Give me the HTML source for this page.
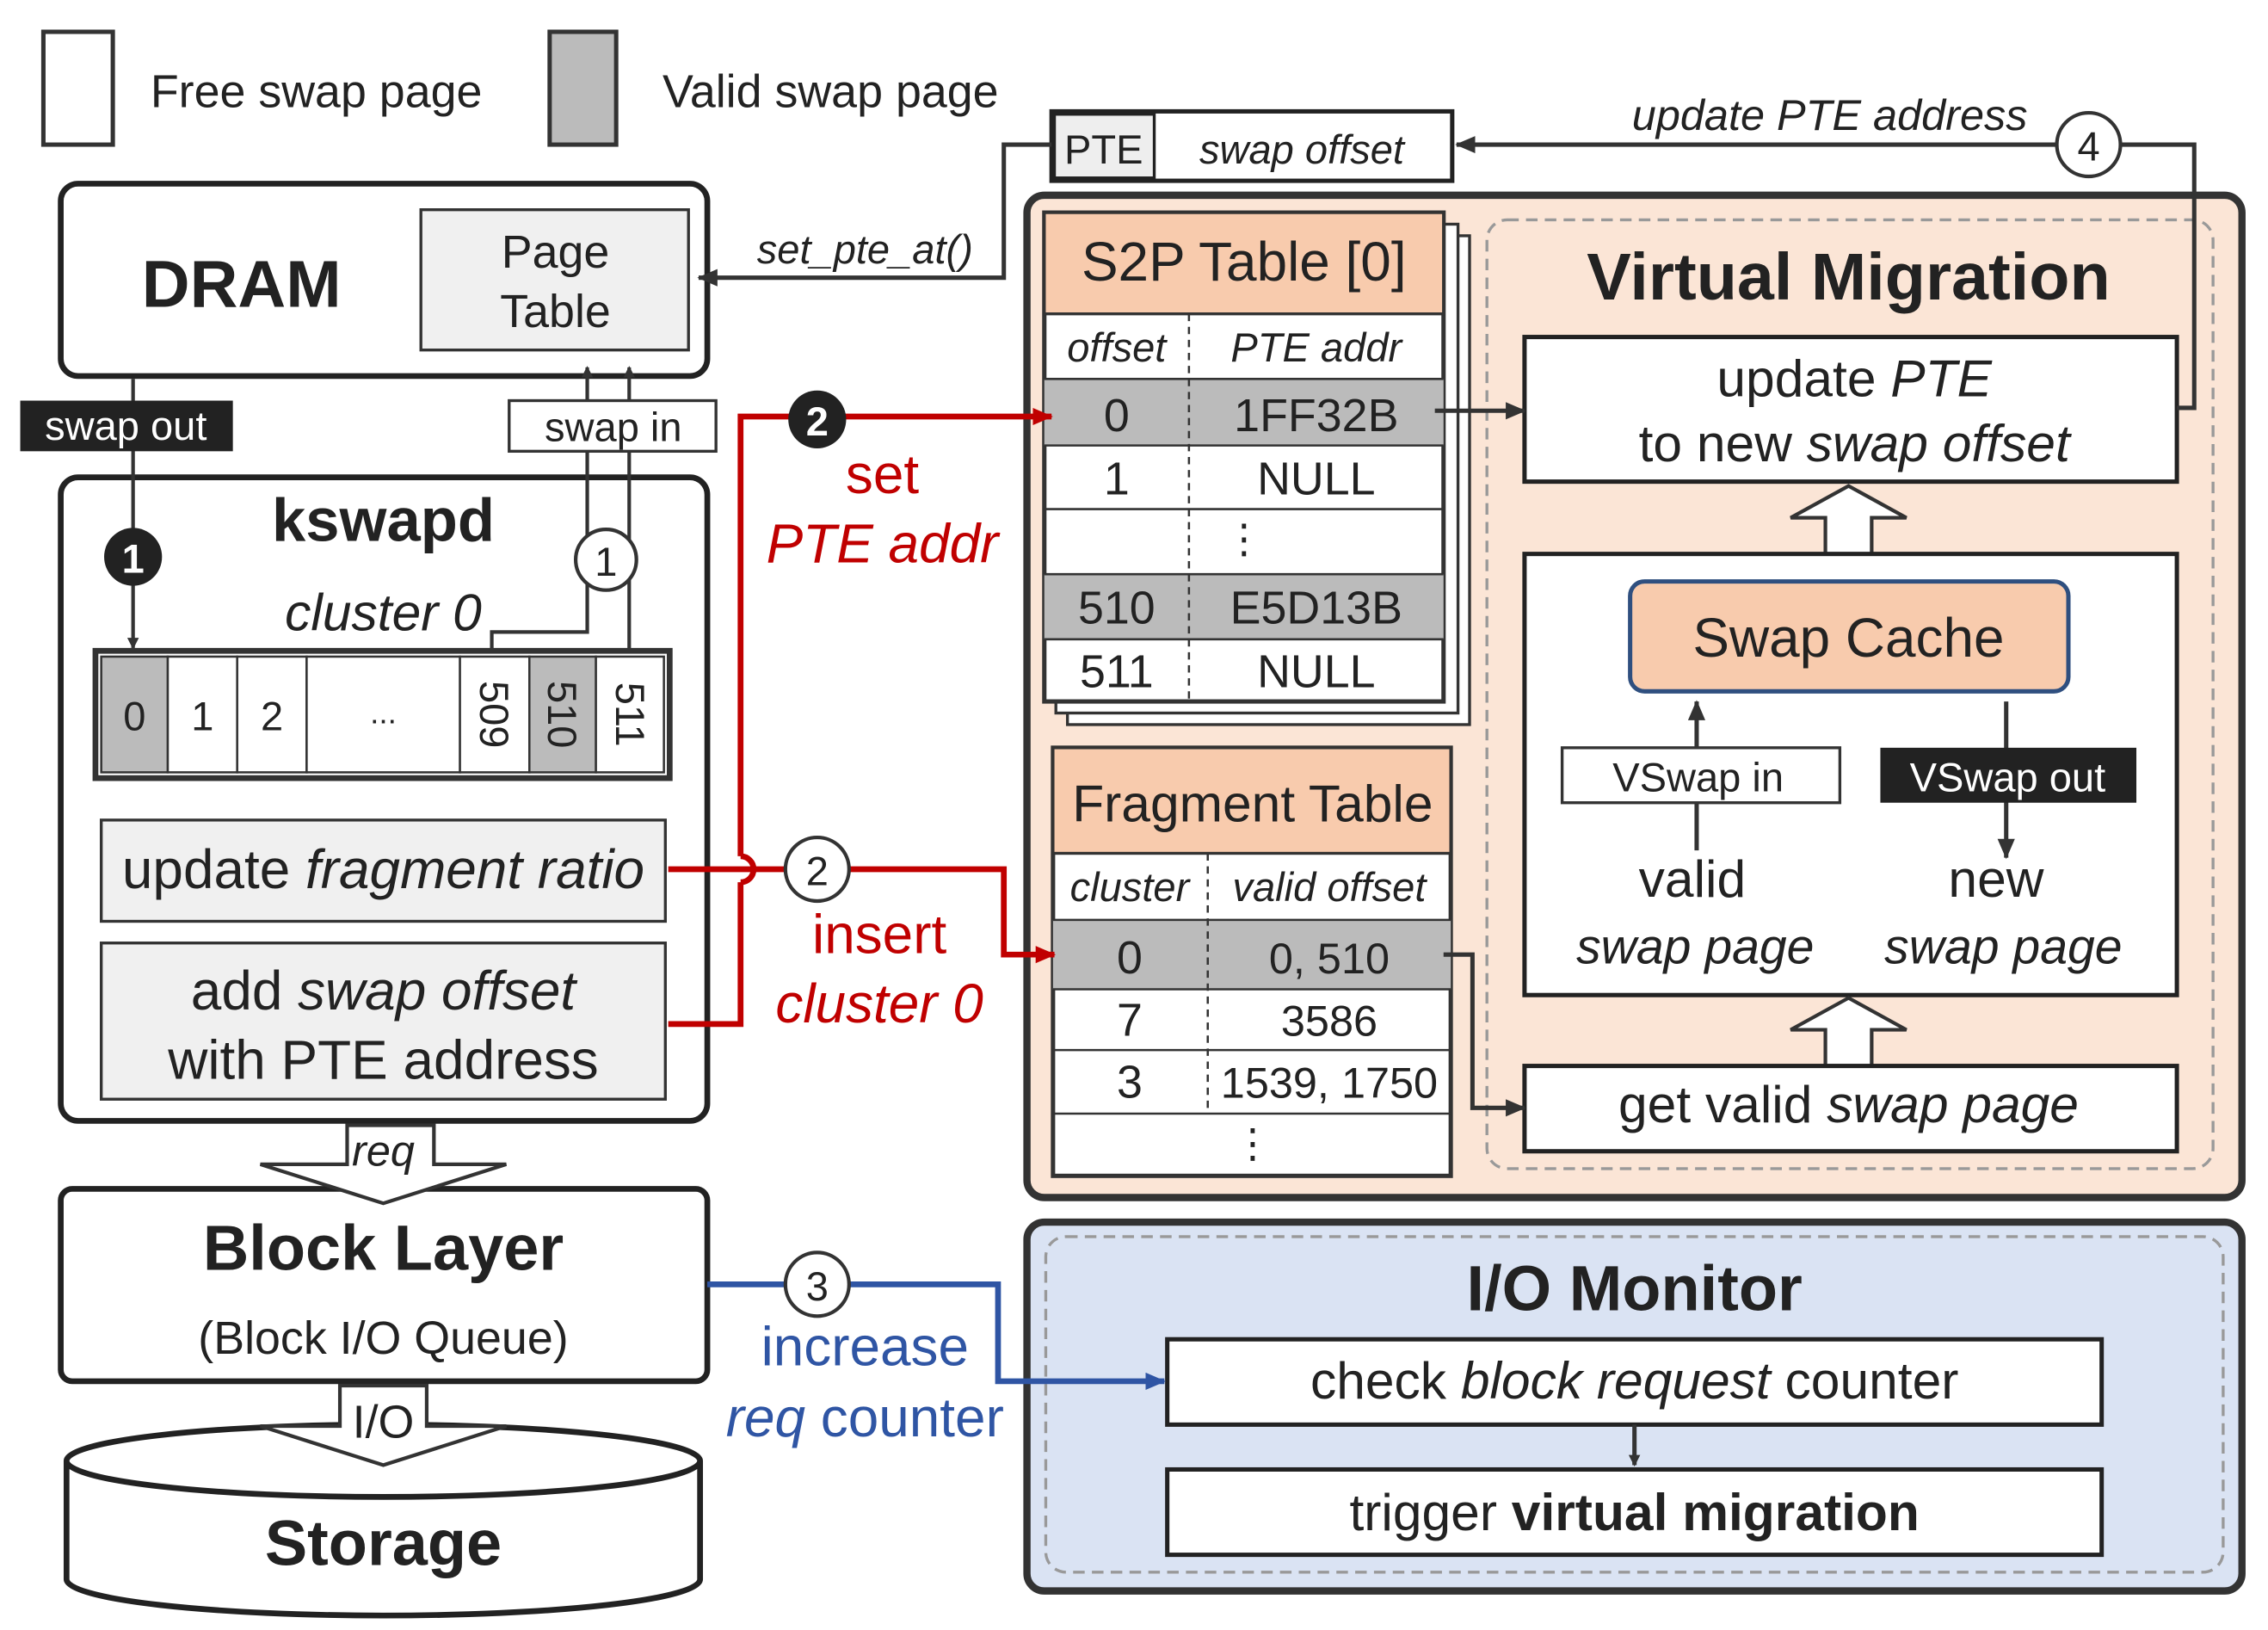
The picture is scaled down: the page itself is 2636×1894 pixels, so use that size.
<!DOCTYPE html>
<html><head><meta charset="utf-8"><style>html,body{margin:0;padding:0;background:#fff}svg{display:block}text{font-family:"Liberation Sans","DejaVu Sans",sans-serif;fill:#222}</style></head><body>
<svg width="2636" height="1894" viewBox="0 0 1568 1127" preserveAspectRatio="none" xmlns="http://www.w3.org/2000/svg">
<defs>
<marker id="ak" markerWidth="8" markerHeight="8" refX="7" refY="4" orient="auto" markerUnits="userSpaceOnUse"><path d="M0,0 L8,4 L0,8 z" fill="#333"/></marker>
<marker id="ar" markerWidth="14" markerHeight="12" refX="13" refY="6" orient="auto" markerUnits="userSpaceOnUse"><path d="M0,0 L14,6 L0,12 z" fill="#c00000"/></marker>
<marker id="ab" markerWidth="14" markerHeight="12" refX="13" refY="6" orient="auto" markerUnits="userSpaceOnUse"><path d="M0,0 L14,6 L0,12 z" fill="#2f55a4"/></marker>
<marker id="a2" markerWidth="14" markerHeight="12" refX="13" refY="6" orient="auto" markerUnits="userSpaceOnUse"><path d="M0,0 L14,6 L0,12 z" fill="#333"/></marker>
</defs>
<!-- legend -->
<rect x="30" y="22" width="48" height="78" fill="#fff" stroke="#333" stroke-width="3"/>
<text x="104" y="74" font-size="32">Free swap page</text>
<rect x="380" y="22" width="46" height="78" fill="#bbb" stroke="#333" stroke-width="3"/>
<text x="458" y="74" font-size="32">Valid swap page</text>

<!-- DRAM -->
<rect x="42" y="127" width="447" height="133" rx="12" fill="#fff" stroke="#222" stroke-width="4"/>
<text x="98" y="212" font-size="46" font-weight="bold">DRAM</text>
<rect x="291" y="145" width="185" height="97" fill="#f0f0f0" stroke="#333" stroke-width="2"/>
<text x="384" y="185" font-size="32" text-anchor="middle">Page</text>
<text x="384" y="226" font-size="32" text-anchor="middle">Table</text>

<!-- PTE -->
<rect x="727" y="77" width="277" height="48" fill="#fff" stroke="#222" stroke-width="3"/>
<rect x="729" y="79" width="69" height="44" fill="#eee" stroke="#222" stroke-width="2"/>
<text x="763" y="113" font-size="28" text-anchor="middle">PTE</text>
<text x="900" y="113" font-size="28" text-anchor="middle" font-style="italic">swap offset</text>
<text x="598" y="182" font-size="28" text-anchor="middle" font-style="italic">set_pte_at()</text>
<text x="1265" y="90" font-size="30" text-anchor="middle" font-style="italic">update PTE address</text>

<!-- kswapd -->
<rect x="42" y="330" width="447" height="445" rx="12" fill="#fff" stroke="#222" stroke-width="4"/>
<text x="265" y="374" font-size="42" font-weight="bold" text-anchor="middle">kswapd</text>
<text x="265" y="436" font-size="36" font-style="italic" text-anchor="middle">cluster 0</text>
<rect x="70" y="567" width="390" height="70" fill="#f0f0f0" stroke="#333" stroke-width="2"/>
<text x="265" y="614" font-size="38" text-anchor="middle">update <tspan font-style="italic">fragment ratio</tspan></text>
<rect x="70" y="652" width="390" height="108" fill="#f0f0f0" stroke="#333" stroke-width="2"/>
<text x="265" y="698" font-size="38" text-anchor="middle">add <tspan font-style="italic">swap offset</tspan></text>
<text x="265" y="746" font-size="38" text-anchor="middle">with PTE address</text>

<!-- Block layer -->
<rect x="42" y="822" width="447" height="133" rx="8" fill="#fff" stroke="#222" stroke-width="4"/>
<text x="265" y="878" font-size="44" font-weight="bold" text-anchor="middle">Block Layer</text>
<text x="265" y="936" font-size="32" text-anchor="middle">(Block I/O Queue)</text>
<polygon points="240,778 300,778 300,805 350,805 265,832 180,805 240,805" fill="#fff" stroke="#333" stroke-width="2.5"/>
<text x="265" y="806" font-size="30" text-anchor="middle" font-style="italic">req</text>
<!-- storage -->
<path d="M46,1010 L46,1092 A219,25 0 0 0 484,1092 L484,1010" fill="#fff" stroke="#222" stroke-width="4"/>
<ellipse cx="265" cy="1010" rx="219" ry="25" fill="#fff" stroke="#222" stroke-width="4"/>
<polygon points="235,958 295,958 295,986 350,986 265,1013 180,986 235,986" fill="#fff" stroke="#333" stroke-width="2.5"/>
<text x="265" y="994" font-size="32" text-anchor="middle">I/O</text>
<text x="265" y="1082" font-size="44" font-weight="bold" text-anchor="middle">Storage</text>

<!-- right big box -->
<rect x="710" y="135" width="840" height="693" rx="12" fill="#fbe5d6" stroke="#333" stroke-width="5"/>
<rect x="1028" y="152" width="502" height="656" rx="14" fill="none" stroke="#999" stroke-width="2" stroke-dasharray="8,5"/>
<!-- S2P -->
<rect x="738" y="163" width="278" height="338" fill="#fff" stroke="#333" stroke-width="2"/>
<rect x="730" y="155" width="278" height="338" fill="#fff" stroke="#333" stroke-width="2"/>
<rect x="722" y="147" width="276" height="338" fill="#fff" stroke="#333" stroke-width="3"/>
<rect x="722" y="147" width="276" height="70" fill="#f8cbad" stroke="#333" stroke-width="2"/>
<text x="860" y="194" font-size="38" text-anchor="middle">S2P Table [0]</text>
<rect x="722" y="262" width="276" height="46" fill="#bbb"/>
<rect x="722" y="397" width="276" height="45" fill="#bbb"/>
<g stroke="#333" stroke-width="1.5"><line x1="722" y1="262" x2="998" y2="262"/><line x1="722" y1="308" x2="998" y2="308"/><line x1="722" y1="352" x2="998" y2="352"/><line x1="722" y1="397" x2="998" y2="397"/><line x1="722" y1="442" x2="998" y2="442"/></g>
<line x1="822" y1="217" x2="822" y2="485" stroke="#333" stroke-width="1.5" stroke-dasharray="5,4"/>
<text x="772" y="250" font-size="28" text-anchor="middle" font-style="italic">offset</text>
<text x="910" y="250" font-size="28" text-anchor="middle" font-style="italic">PTE addr</text>
<text x="772" y="298" font-size="32" text-anchor="middle">0</text><text x="910" y="298" font-size="32" text-anchor="middle">1FF32B</text>
<text x="772" y="342" font-size="32" text-anchor="middle">1</text><text x="910" y="342" font-size="32" text-anchor="middle">NULL</text>
<text x="860" y="382" font-size="28" text-anchor="middle">⋮</text>
<text x="772" y="431" font-size="32" text-anchor="middle">510</text><text x="910" y="431" font-size="32" text-anchor="middle">E5D13B</text>
<text x="772" y="475" font-size="32" text-anchor="middle">511</text><text x="910" y="475" font-size="32" text-anchor="middle">NULL</text>

<!-- Fragment table -->
<rect x="728" y="517" width="275" height="296" fill="#fff" stroke="#333" stroke-width="3"/>
<rect x="728" y="517" width="275" height="73" fill="#f8cbad" stroke="#333" stroke-width="2"/>
<text x="866" y="568" font-size="36" text-anchor="middle">Fragment Table</text>
<rect x="728" y="636" width="275" height="48" fill="#bbb"/>
<g stroke="#333" stroke-width="1.5"><line x1="728" y1="636" x2="1003" y2="636"/><line x1="728" y1="684" x2="1003" y2="684"/><line x1="728" y1="726" x2="1003" y2="726"/><line x1="728" y1="770" x2="1003" y2="770"/></g>
<line x1="835" y1="590" x2="835" y2="770" stroke="#333" stroke-width="1.5" stroke-dasharray="5,4"/>
<text x="781" y="623" font-size="28" text-anchor="middle" font-style="italic">cluster</text>
<text x="919" y="623" font-size="28" text-anchor="middle" font-style="italic">valid offset</text>
<text x="781" y="673" font-size="32" text-anchor="middle">0</text><text x="919" y="673" font-size="30" text-anchor="middle">0, 510</text>
<text x="781" y="716" font-size="32" text-anchor="middle">7</text><text x="919" y="716" font-size="30" text-anchor="middle">3586</text>
<text x="781" y="759" font-size="32" text-anchor="middle">3</text><text x="919" y="759" font-size="30" text-anchor="middle">1539, 1750</text>
<text x="866" y="800" font-size="28" text-anchor="middle">⋮</text>

<!-- Virtual migration -->
<text x="1278" y="207" font-size="46" font-weight="bold" text-anchor="middle">Virtual Migration</text>
<rect x="1054" y="233" width="451" height="100" fill="#fff" stroke="#222" stroke-width="3"/>
<text x="1282" y="274" font-size="36" text-anchor="middle">update <tspan font-style="italic">PTE</tspan></text>
<text x="1282" y="319" font-size="36" text-anchor="middle">to new <tspan font-style="italic">swap offset</tspan></text>
<polygon points="1262,383 1294,383 1294,358 1318,358 1278,336 1238,358 1262,358" fill="#fff" stroke="#333" stroke-width="2.5"/>
<rect x="1054" y="383" width="451" height="305" fill="#fff" stroke="#222" stroke-width="3"/>
<rect x="1127" y="402" width="303" height="76" rx="10" fill="#f8cbad" stroke="#2f4f7f" stroke-width="3"/>
<text x="1278" y="454" font-size="38" text-anchor="middle">Swap Cache</text>
<line x1="1173" y1="588" x2="1173" y2="485" stroke="#333" stroke-width="3" marker-end="url(#a2)"/>
<rect x="1080" y="517" width="192" height="38" fill="#fff" stroke="#333" stroke-width="2"/>
<text x="1174" y="547" font-size="28" text-anchor="middle">VSwap in</text>
<text x="1170" y="620" font-size="36" text-anchor="middle">valid</text>
<text x="1172" y="666" font-size="34" text-anchor="middle" font-style="italic">swap page</text>
<line x1="1387" y1="485" x2="1387" y2="593" stroke="#333" stroke-width="3" marker-end="url(#a2)"/>
<rect x="1300" y="517" width="177" height="38" fill="#222"/>
<text x="1388" y="547" font-size="28" text-anchor="middle" style="fill:#fff">VSwap out</text>
<text x="1380" y="620" font-size="36" text-anchor="middle">new</text>
<text x="1385" y="666" font-size="34" text-anchor="middle" font-style="italic">swap page</text>
<polygon points="1262,737 1294,737 1294,712 1318,712 1278,690 1238,712 1262,712" fill="#fff" stroke="#333" stroke-width="2.5"/>
<rect x="1054" y="737" width="451" height="59" fill="#fff" stroke="#222" stroke-width="3"/>
<text x="1278" y="776" font-size="36" text-anchor="middle">get valid <tspan font-style="italic">swap page</tspan></text>

<!-- I/O monitor -->
<rect x="710" y="845" width="840" height="255" rx="12" fill="#dae3f3" stroke="#333" stroke-width="5"/>
<rect x="723" y="855" width="814" height="232" rx="14" fill="none" stroke="#999" stroke-width="2" stroke-dasharray="8,5"/>
<text x="1130" y="906" font-size="44" font-weight="bold" text-anchor="middle">I/O Monitor</text>
<rect x="807" y="926" width="646" height="59" fill="#fff" stroke="#222" stroke-width="3"/>
<text x="1130" y="967" font-size="36" text-anchor="middle">check <tspan font-style="italic">block request</tspan> counter</text>
<line x1="1130" y1="985" x2="1130" y2="1013" stroke="#333" stroke-width="3" marker-end="url(#ak)"/>
<rect x="807" y="1016" width="646" height="59" fill="#fff" stroke="#222" stroke-width="3"/>
<text x="1130" y="1058" font-size="36" text-anchor="middle">trigger <tspan font-weight="bold">virtual migration</tspan></text>

<!-- ===== connectors ===== -->
<polyline points="727,100 694,100 694,192 483,192" fill="none" stroke="#333" stroke-width="3" marker-end="url(#a2)"/>
<polyline points="1505,282 1517,282 1517,100 1007,100" fill="none" stroke="#333" stroke-width="3" marker-end="url(#a2)"/>
<line x1="992" y1="284" x2="1054" y2="284" stroke="#333" stroke-width="3" marker-end="url(#a2)"/>
<polyline points="998,660 1018,660 1018,766 1054,766" fill="none" stroke="#333" stroke-width="3" marker-end="url(#a2)"/>
<!-- swap out / in -->
<line x1="92" y1="262" x2="92" y2="448" stroke="#333" stroke-width="2.5" marker-end="url(#ak)"/>
<polyline points="340,450 340,437 406,437 406,254" fill="none" stroke="#333" stroke-width="2.5" marker-end="url(#ak)"/>
<line x1="435" y1="450" x2="435" y2="254" stroke="#333" stroke-width="2.5" marker-end="url(#ak)"/>
<!-- cluster row -->
<rect x="66" y="450" width="397" height="88" fill="#fff" stroke="#333" stroke-width="4"/>
<rect x="70" y="454" width="46" height="80" fill="#bbb" stroke="#333" stroke-width="1.5"/>
<rect x="116" y="454" width="48" height="80" fill="#fff" stroke="#333" stroke-width="1.5"/>
<rect x="164" y="454" width="48" height="80" fill="#fff" stroke="#333" stroke-width="1.5"/>
<rect x="212" y="454" width="106" height="80" fill="#fff" stroke="#333" stroke-width="1.5"/>
<rect x="318" y="454" width="48" height="80" fill="#fff" stroke="#333" stroke-width="1.5"/>
<rect x="366" y="454" width="46" height="80" fill="#bbb" stroke="#333" stroke-width="1.5"/>
<rect x="412" y="454" width="47" height="80" fill="#fff" stroke="#333" stroke-width="1.5"/>
<text x="93" y="505" font-size="28" text-anchor="middle">0</text>
<text x="140" y="505" font-size="28" text-anchor="middle">1</text>
<text x="188" y="505" font-size="28" text-anchor="middle">2</text>
<text x="265" y="500" font-size="22" text-anchor="middle">...</text>
<text transform="translate(332,494) rotate(90)" font-size="28" text-anchor="middle">509</text>
<text transform="translate(379,494) rotate(90)" font-size="28" text-anchor="middle">510</text>
<text transform="translate(426,494) rotate(90)" font-size="28" text-anchor="middle">511</text>
<rect x="14" y="277" width="147" height="35" fill="#222"/>
<text x="87" y="304" font-size="28" text-anchor="middle" style="fill:#fff">swap out</text>
<rect x="352" y="277" width="143" height="35" fill="#fff" stroke="#333" stroke-width="2"/>
<text x="424" y="305" font-size="28" text-anchor="middle">swap in</text>
<circle cx="92" cy="385" r="20" fill="#222"/>
<text x="92" y="396" font-size="28" text-anchor="middle" font-weight="bold" style="fill:#fff">1</text>
<circle cx="419" cy="387" r="21" fill="#fff" stroke="#333" stroke-width="2.5"/>
<text x="419" y="398" font-size="28" text-anchor="middle">1</text>

<!-- red -->
<polyline points="462,708 512,708 512,610" fill="none" stroke="#c00000" stroke-width="4"/>
<path d="M512,610 A9,9 0 0 0 512,592" fill="none" stroke="#c00000" stroke-width="4"/>
<polyline points="512,592 512,288 727,288" fill="none" stroke="#c00000" stroke-width="4" marker-end="url(#ar)"/>
<polyline points="462,601 694,601 694,660 729,660" fill="none" stroke="#c00000" stroke-width="4" marker-end="url(#ar)"/>
<circle cx="565" cy="290" r="20" fill="#222"/>
<text x="565" y="301" font-size="28" text-anchor="middle" font-weight="bold" style="fill:#fff">2</text>
<circle cx="565" cy="601" r="22" fill="#fff" stroke="#333" stroke-width="2.5"/>
<text x="565" y="612" font-size="28" text-anchor="middle">2</text>
<text x="610" y="341" font-size="38" text-anchor="middle" style="fill:#c00000">set</text>
<text x="610" y="389" font-size="38" text-anchor="middle" font-style="italic" style="fill:#c00000">PTE addr</text>
<text x="608" y="659" font-size="38" text-anchor="middle" style="fill:#c00000">insert</text>
<text x="608" y="707" font-size="38" text-anchor="middle" font-style="italic" style="fill:#c00000">cluster 0</text>

<!-- blue -->
<polyline points="489,888 690,888 690,955 805,955" fill="none" stroke="#2f55a4" stroke-width="4" marker-end="url(#ab)"/>
<circle cx="565" cy="888" r="22" fill="#fff" stroke="#333" stroke-width="2.5"/>
<text x="565" y="899" font-size="28" text-anchor="middle">3</text>
<text x="598" y="944" font-size="38" text-anchor="middle" style="fill:#2f55a4">increase</text>
<text x="598" y="993" font-size="38" text-anchor="middle" style="fill:#2f55a4"><tspan font-style="italic">req</tspan> counter</text>

<circle cx="1444" cy="100" r="22" fill="#fff" stroke="#333" stroke-width="2.5"/>
<text x="1444" y="111" font-size="28" text-anchor="middle">4</text>
</svg>
</body></html>
